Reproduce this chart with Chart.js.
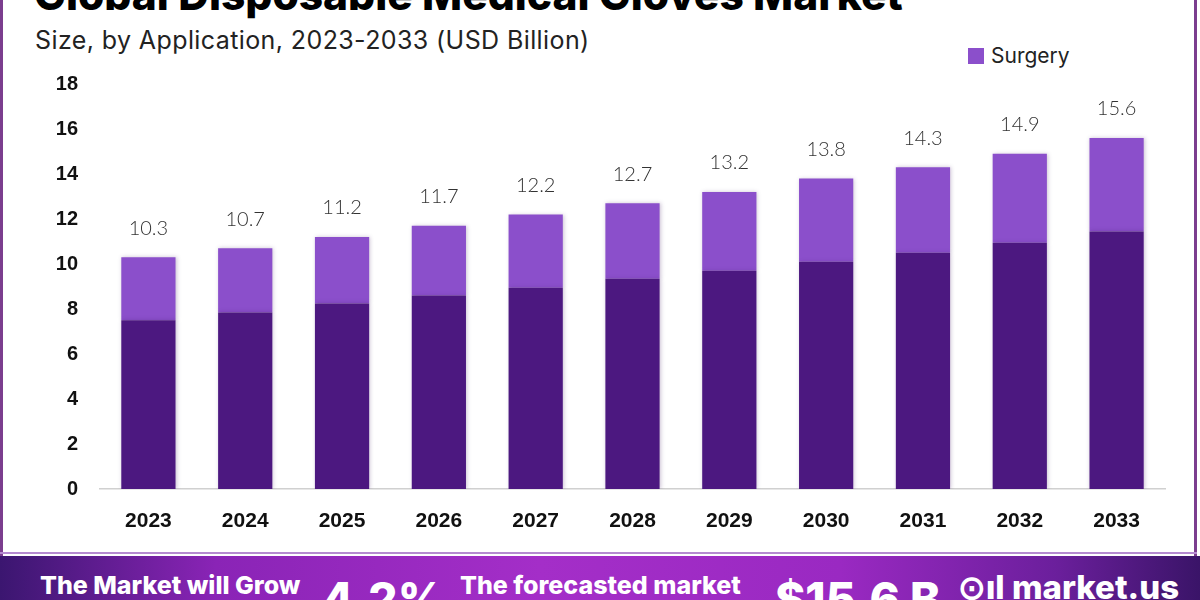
<!DOCTYPE html>
<html>
<head>
<meta charset="utf-8">
<script src="https://cdn.jsdelivr.net/npm/chart.js@4.4.1/dist/chart.umd.min.js"></script>
<style>
  html,body{margin:0;padding:0;background:#fff;}
  #wrap{position:relative;width:1200px;height:600px;overflow:hidden;background:#fff;}
  #frameL{position:absolute;left:0;top:0;width:3px;height:556px;background:#7b3d8e;}
  #frameR{position:absolute;left:1194px;top:0;width:3px;height:556px;background:#7b3d8e;}
  #frameB{position:absolute;left:0;top:552px;width:1197px;height:2px;background:#b58ad0;}
  #title{position:absolute;left:34px;top:-27px;font-family:Inter,"Open Sans",sans-serif;font-weight:800;font-size:42.5px;line-height:44px;color:#000;white-space:nowrap;letter-spacing:0px;}
  #subtitle{position:absolute;left:35px;top:25px;font-family:Inter,"Open Sans",sans-serif;font-size:25px;line-height:30px;color:#222;white-space:nowrap;letter-spacing:0.4px;}
  #legend{position:absolute;left:968px;top:43px;font-family:Inter,"Open Sans",sans-serif;font-size:21px;line-height:26px;color:#222;white-space:nowrap;}
  #legend span.sw{display:inline-block;width:16px;height:16px;background:#8b4fcb;margin-right:7px;vertical-align:-1px;}
  #banner{position:absolute;left:0;top:556px;width:1200px;height:44px;background:linear-gradient(90deg,#3b1670 0%,#8a24b6 18%,#a42ec8 45%,#9a29c2 70%,#6b1f9c 88%,#3a1468 100%);overflow:hidden;}
  .bt{position:absolute;color:#fff;font-family:Inter,"Open Sans",sans-serif;font-weight:800;white-space:nowrap;}
  canvas{position:absolute;left:0;top:0;}
</style>
</head>
<body>
<div id="wrap">
  <div id="frameL"></div><div id="frameR"></div><div id="frameB"></div>
  <div id="title">Global Disposable Medical Gloves Market</div>
  <div id="subtitle">Size, by Application, 2023-2033 (USD Billion)</div>
  <div id="legend"><span class="sw"></span>Surgery</div>
  <canvas id="c" width="1200" height="556"></canvas>
  <div id="banner">
    <div class="bt" style="left:40px;top:15px;font-size:25px;line-height:28px;">The Market will Grow</div>
    <div class="bt" style="left:322px;top:18px;font-size:46px;line-height:50px;">4.2%</div>
    <div class="bt" style="left:460px;top:15px;font-size:25px;line-height:28px;">The forecasted market</div>
    <div class="bt" style="left:775px;top:18px;font-size:46px;line-height:50px;">$15.6 B</div>
    <div class="bt" style="left:958px;top:14px;font-size:33px;line-height:34px;">&#x2299;ıl market.us</div>
  </div>
</div>
<script>
const categories = ["2023","2024","2025","2026","2027","2028","2029","2030","2031","2032","2033"];
const otherValues = [7.5, 7.85, 8.25, 8.6, 8.95, 9.35, 9.7, 10.1, 10.5, 10.95, 11.45];
const surgeryValues = [2.8, 2.85, 2.95, 3.1, 3.25, 3.35, 3.5, 3.7, 3.8, 3.95, 4.15];
const totalLabels = ["10.3","10.7","11.2","11.7","12.2","12.7","13.2","13.8","14.3","14.9","15.6"];
const yTicks = [0,2,4,6,8,10,12,14,16,18];

const shadowPlugin = {
  id:'shadow',
  beforeDatasetsDraw(chart){
    const ctx=chart.ctx; ctx.save();
    ctx.shadowColor='rgba(60,20,90,0.25)'; ctx.shadowBlur=4; ctx.shadowOffsetX=1; ctx.shadowOffsetY=0;
  },
  afterDatasetsDraw(chart){
    const ctx=chart.ctx; ctx.restore();
    const meta=chart.getDatasetMeta(chart.data.datasets.length-1);
    ctx.save();
    ctx.font='300 20px Lato, "Open Sans", sans-serif';
    ctx.fillStyle='#333'; ctx.textAlign='center'; ctx.textBaseline='middle';
    meta.data.forEach((bar,i)=>{ ctx.fillText(totalLabels[i], bar.x, bar.y-29); });
    ctx.restore();
  }
};

new Chart(document.getElementById('c'),{
  type:'bar',
  data:{
    labels:categories,
    datasets:[
      {label:'Other', data:otherValues, backgroundColor:'#4c1880', borderWidth:0, barPercentage:0.56, categoryPercentage:1},
      {label:'Surgery', data:surgeryValues, backgroundColor:'#8b4fcb', borderWidth:0, barPercentage:0.56, categoryPercentage:1}
    ]
  },
  options:{
    responsive:false, animation:false,
    layout:{padding:{left:0,right:35,top:84,bottom:7}},
    plugins:{legend:{display:false},tooltip:{enabled:false}},
    scales:{
      x:{stacked:true,
        grid:{display:false,drawTicks:false},
        border:{display:true,color:'#d0d0d0',width:1.5},
        ticks:{padding:20,color:'#111',font:{family:'"Liberation Sans", Arial, sans-serif',weight:'bold',size:21}},
        afterFit(s){s.height=60;}
      },
      y:{stacked:true,min:0,max:18,
        grid:{display:false,drawTicks:false},
        border:{display:false},
        afterBuildTicks(s){s.ticks=yTicks.map(v=>({value:v}));},
        ticks:{padding:22,color:'#111',font:{family:'"Liberation Sans", Arial, sans-serif',weight:'bold',size:20}},
        afterFit(s){s.width=100;}
      }
    }
  },
  plugins:[shadowPlugin]
});
</script>
</body>
</html>
